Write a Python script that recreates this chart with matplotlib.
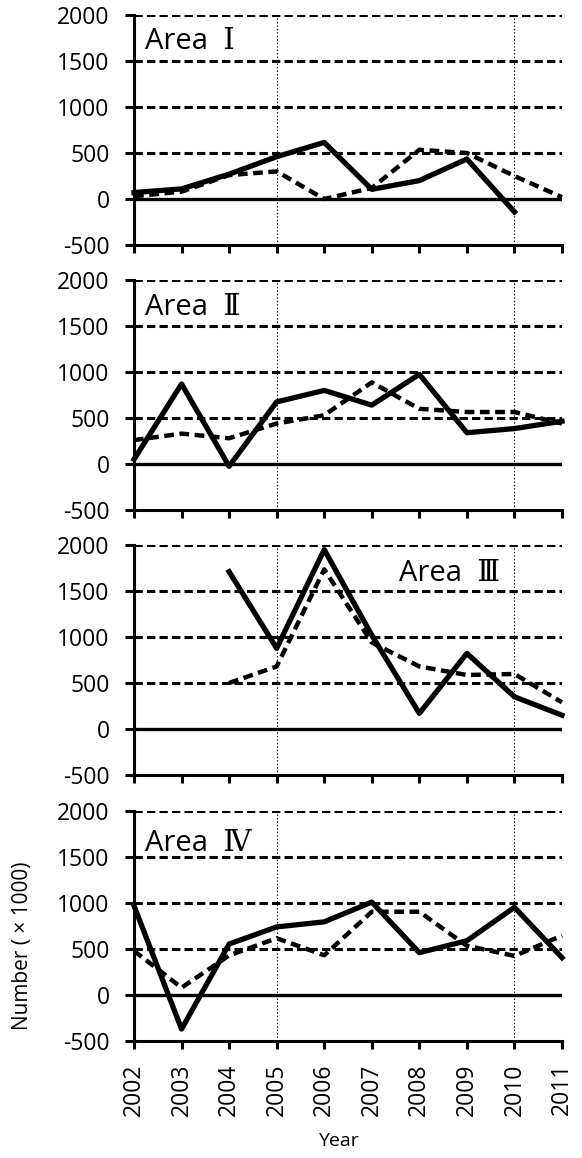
import matplotlib
matplotlib.use("Agg")
import matplotlib.pyplot as plt
import numpy as np

plt.rcParams["font.family"] = ["Open Sans", "DejaVu Serif", "Noto Sans CJK JP"]
plt.rcParams["lines.scale_dashes"] = False
plt.rcParams["axes.unicode_minus"] = False

YEARS = [2002, 2003, 2004, 2005, 2006, 2007, 2008, 2009, 2010, 2011]
AREAS = ["Area  \u2160", "Area  \u2161", "Area  \u2162", "Area  \u2163"]

# solid series
SOLID_1 = [70, 110, 270, 460, 615, 105, 200, 435, -140, np.nan]
SOLID_2 = [50, 870, -25, 675, 800, 640, 975, 340, 385, 465]
SOLID_3 = [np.nan, np.nan, 1710, 877, 1950, 1020, 170, 822, 350, 150]
SOLID_4 = [970, -370, 554, 740, 795, 1010, 460, 590, 953, 406]

# dashed series
DASH_1 = [30, 80, 260, 300, 0, 120, 535, 500, 250, 20]
DASH_2 = [260, 330, 280, 440, 530, 887, 600, 565, 565, 440]
DASH_3 = [np.nan, np.nan, 500, 680, 1735, 940, 680, 587, 598, 290]
DASH_4 = [480, 80, 430, 617, 432, 905, 905, 535, 425, 646]

SOLIDS = [SOLID_1, SOLID_2, SOLID_3, SOLID_4]
DASHES = [DASH_1, DASH_2, DASH_3, DASH_4]
YTICKS = [-500, 0, 500, 1000, 1500, 2000]

W, H = 582, 1158
fig = plt.figure(figsize=(W / 100, H / 100), dpi=100)

left, right = 134, 562
tops = [15, 280, 545, 811]
ph = 230
label_pos = [(0.026, 0.885), (0.026, 0.88), (0.62, 0.875), (0.026, 0.86)]

for i in range(4):
    ax = fig.add_axes([left / W, 1 - (tops[i] + ph) / H, (right - left) / W, ph / H])
    ax.set_xlim(2002, 2011)
    ax.set_ylim(-500, 2000)
    for s in ["top", "right"]:
        ax.spines[s].set_visible(False)
    ax.spines["left"].set_linewidth(2.2)
    ax.spines["bottom"].set_linewidth(2.2)

    for v in YTICKS[2:]:
        ax.axhline(v, color="black", lw=2.2, dashes=(6, 3), zorder=1)
    ax.axhline(0, color="black", lw=2.4, zorder=1)
    for yr in (2005, 2010):
        ax.axvline(yr, color="black", lw=0.8, ls=(0, (1, 1.5)), zorder=1)

    ax.plot(YEARS, DASHES[i], color="black", lw=3.2, dashes=(7, 4),
            clip_on=False, zorder=3)
    ax.plot(YEARS, SOLIDS[i], color="black", lw=3.8, clip_on=False, zorder=4)

    ax.set_yticks(YTICKS)
    ax.set_xticks(YEARS)
    ax.tick_params(axis="y", direction="out", length=6.5, width=2.2,
                   pad=11, labelsize=16.5)
    ax.tick_params(axis="x", direction="out", length=6, width=2.2, pad=10,
                   labelsize=16.5)
    if i < 3:
        ax.set_xticklabels([])
    else:
        ax.set_xticklabels([str(y) for y in YEARS], rotation=90)

    lx, ly = label_pos[i]
    ax.text(lx, ly, AREAS[i], transform=ax.transAxes, fontsize=21,
            ha="left", va="center")

fig.text(23 / W, 1 - 946 / H, "Number ( \u00d7 1000)", rotation=90,
         fontsize=15, ha="center", va="center")
fig.text(338 / W, 1 - 1141 / H, "Year", fontsize=14, ha="center", va="center")

fig.savefig("out.png", dpi=100)
